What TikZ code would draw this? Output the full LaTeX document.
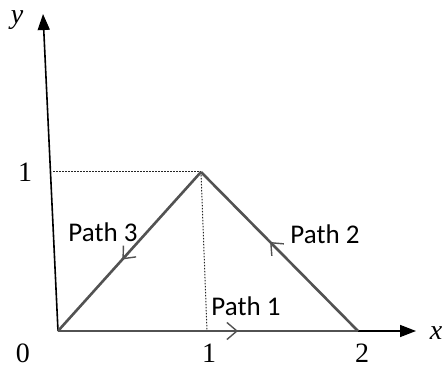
\documentclass[tikz,border=0pt]{standalone}
\usepackage{fontspec}
\setmainfont{Liberation Serif}
\newfontfamily\labfont{Carlito}
\usetikzlibrary{arrows.meta,decorations.markings}
\tikzset{
  axis/.style={line width=1.6pt,black,-{Triangle[length=16pt,width=12pt]}},
  pathline/.style={line width=2.6pt,draw=black!68},
  guide/.style={line width=1pt,dash pattern=on 1.5pt off 1.5pt,black!85},
  midarrow/.style={postaction={decorate},decoration={markings,
     mark=at position #1 with {\arrow{Straight Barb[length=10pt,width=17pt,line width=1.4pt]}}}},
  pathlab/.style={font=\labfont\fontsize{27}{31}\selectfont},
  numlab/.style={font=\fontsize{28}{32}\selectfont},
  varlab/.style={font=\itshape\fontsize{28}{32}\selectfont}
}
\begin{document}
\begin{tikzpicture}[x=1pt,y=1pt]
\useasboundingbox (0,0) rectangle (442,367);
\coordinate (O) at (58,36);
\coordinate (B) at (358,36);
\coordinate (P) at (201,195);
\coordinate (Ytop) at (43,353);
\coordinate (Xtip) at (416,36);
\coordinate (Yd) at (53,195);
\coordinate (Xd) at (207,36);
% guides
\draw[guide] (Yd) -- (P);
\draw[guide] (P) -- (Xd);
% axes
\draw[axis] (O) -- (Ytop);
\draw[axis] (O) -- (Xtip);
% paths
\draw[pathline,midarrow=0.6] (O) -- (B);
\draw[pathline,midarrow=0.56] (B) -- (P);
\draw[pathline,midarrow=0.55] (P) -- (O);
% labels
\node[pathlab] (l3) at (103,135) {Path 3};
\node[pathlab] (l2) at (325,133) {Path 2};
\node[pathlab] (l1) at (246,61) {Path 1};
\node[numlab] (n0) at (23,14) {0};
\node[numlab] (n1) at (209,14) {1};
\node[numlab] (n2) at (362,14) {2};
\node[numlab] (ny1) at (25,195) {1};
\node[varlab] (ylab) at (17,347) {y};
\node[varlab] (xlab) at (436,34) {x};
\end{tikzpicture}
\end{document}
